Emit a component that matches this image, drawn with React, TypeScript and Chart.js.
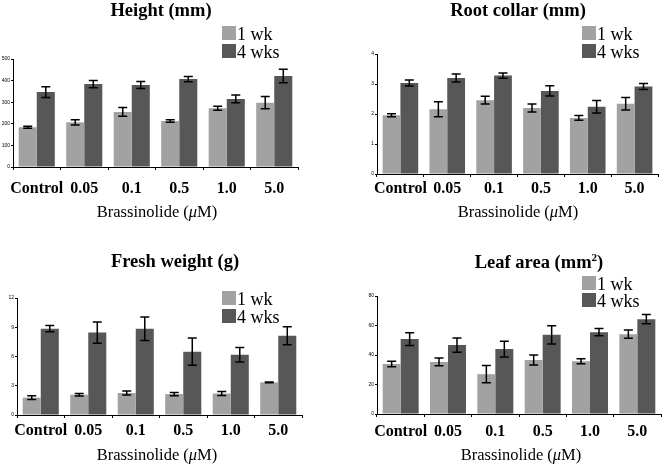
import React, { useEffect, useRef } from "react";
import { Chart, registerables } from "chart.js";

Chart.register(...registerables);

// ---------- data ----------
const categories = ["Control", "0.05", "0.1", "0.5", "1.0", "5.0"];
const seriesLabels = ["1 wk", "4 wks"];

const heightWk1 = [184, 207, 255, 213, 272, 298];
const heightWk1Err = [5, 12, 20, 6, 9, 28];
const heightWk4 = [347, 384, 380, 407, 315, 421];
const heightWk4Err = [25, 17, 16, 12, 18, 31];
const heightTicks = { max: 500, step: 100 };

const rootWk1 = [1.96, 2.16, 2.46, 2.2, 1.87, 2.34];
const rootWk1Err = [0.05, 0.25, 0.13, 0.13, 0.08, 0.21];
const rootWk4 = [3.03, 3.2, 3.28, 2.77, 2.24, 2.92];
const rootWk4Err = [0.1, 0.13, 0.09, 0.17, 0.21, 0.1];
const rootTicks = { max: 4, step: 1 };

const freshWk1 = [1.78, 2.08, 2.25, 2.15, 2.2, 3.35];
const freshWk1Err = [0.19, 0.12, 0.2, 0.17, 0.2, 0.03];
const freshWk4 = [8.85, 8.45, 8.85, 6.5, 6.18, 8.13];
const freshWk4Err = [0.32, 1.08, 1.2, 1.4, 0.75, 0.92];
const freshTicks = { max: 12, step: 3 };

const leafWk1 = [33.9, 35.3, 27, 36.6, 35.7, 54.1];
const leafWk1Err = [1.9, 2.6, 5.8, 3.4, 1.7, 2.8];
const leafWk4 = [50.8, 46.7, 44, 53.7, 55.5, 64.3];
const leafWk4Err = [4.3, 4.8, 5.4, 6.2, 2.5, 3.1];
const leafTicks = { max: 80, step: 20 };

const xTitleParts = ["Brassinolide (", "\u03bc", "M)"];

// ---------- style ----------
const LIGHT = "#a2a2a2";
const DARK = "#575757";
const SERIF = "'Liberation Serif', 'Times New Roman', serif";
const SANS = "'Liberation Sans', Arial, sans-serif";

type PanelCfg = {
  title: string;
  sup?: string;
  w1: number[];
  e1: number[];
  w4: number[];
  e4: number[];
  ticks: { max: number; step: number };
  canvas: { left: number; top: number; width: number; height: number };
  area: { left: number; right: number; top: number; bottom: number };
  titleX: number;
  titleY: number;
  legendX: number;
  legendY: number;
  legendStep: number;
  xTitleX: number;
  xTitleY: number;
  tickPad: number;
};

const panels: PanelCfg[] = [
  {
    title: "Height (mm)",
    w1: heightWk1, e1: heightWk1Err, w4: heightWk4, e4: heightWk4Err, ticks: heightTicks,
    canvas: { left: 0, top: 0, width: 333, height: 233 },
    area: { left: 13, right: 298, top: 59, bottom: 167 },
    titleX: 161, titleY: 16,
    legendX: 222, legendY: 26, legendStep: 18,
    xTitleX: 157, xTitleY: 217, tickPad: 9,
  },
  {
    title: "Root collar (mm)",
    w1: rootWk1, e1: rootWk1Err, w4: rootWk4, e4: rootWk4Err, ticks: rootTicks,
    canvas: { left: 333, top: 0, width: 333, height: 233 },
    area: { left: 377, right: 658, top: 54, bottom: 174 },
    titleX: 518, titleY: 16,
    legendX: 582, legendY: 26, legendStep: 18,
    xTitleX: 518, xTitleY: 217, tickPad: 2,
  },
  {
    title: "Fresh weight (g)",
    w1: freshWk1, e1: freshWk1Err, w4: freshWk4, e4: freshWk4Err, ticks: freshTicks,
    canvas: { left: 0, top: 233, width: 333, height: 234 },
    area: { left: 17, right: 302, top: 298, bottom: 415 },
    titleX: 175, titleY: 267,
    legendX: 222, legendY: 291, legendStep: 18,
    xTitleX: 157, xTitleY: 460, tickPad: 3,
  },
  {
    title: "Leaf area (mm",
    sup: "2",
    w1: leafWk1, e1: leafWk1Err, w4: leafWk4, e4: leafWk4Err, ticks: leafTicks,
    canvas: { left: 333, top: 233, width: 333, height: 234 },
    area: { left: 377, right: 661, top: 296, bottom: 414 },
    titleX: 539, titleY: 268,
    legendX: 582, legendY: 276, legendStep: 17,
    xTitleX: 521, xTitleY: 460, tickPad: 5,
  },
];

const X_AXIS_H = 28;

const errorBarsPlugin = {
  id: "errorBars",
  afterDatasetsDraw(chart: any) {
    const ctx = chart.ctx;
    const yScale = chart.scales.y;
    ctx.save();
    ctx.strokeStyle = "#000";
    ctx.lineWidth = 1.5;
    chart.data.datasets.forEach((ds: any, i: number) => {
      const meta = chart.getDatasetMeta(i);
      meta.data.forEach((el: any, j: number) => {
        const v = ds.data[j];
        const e = ds.errors[j];
        const yTop = yScale.getPixelForValue(v + e);
        const yBot = yScale.getPixelForValue(v - e);
        const half = 4.5;
        ctx.beginPath();
        ctx.moveTo(el.x, yTop);
        ctx.lineTo(el.x, yBot);
        ctx.moveTo(el.x - half, yTop);
        ctx.lineTo(el.x + half, yTop);
        ctx.moveTo(el.x - half, yBot);
        ctx.lineTo(el.x + half, yBot);
        ctx.stroke();
      });
    });
    ctx.restore();
  },
};

function makeDecorPlugin(cfg: PanelCfg) {
  return {
    id: "decor",
    afterDraw(chart: any) {
      const ctx = chart.ctx;
      const ox = cfg.canvas.left;
      const oy = cfg.canvas.top;
      ctx.save();
      ctx.fillStyle = "#000";
      ctx.textBaseline = "alphabetic";
      // title
      ctx.font = `bold 18.5px ${SERIF}`;
      const tw = ctx.measureText(cfg.title).width;
      let supW = 0;
      let closeW = 0;
      if (cfg.sup) {
        ctx.font = `bold 11px ${SERIF}`;
        supW = ctx.measureText(cfg.sup).width;
        ctx.font = `bold 18.5px ${SERIF}`;
        closeW = ctx.measureText(")").width;
      }
      const total = tw + supW + closeW;
      const tx = cfg.titleX - ox - total / 2;
      ctx.textAlign = "left";
      ctx.fillText(cfg.title, tx, cfg.titleY - oy);
      if (cfg.sup) {
        ctx.font = `bold 11px ${SERIF}`;
        ctx.fillText(cfg.sup, tx + tw, cfg.titleY - oy - 7);
        ctx.font = `bold 18.5px ${SERIF}`;
        ctx.fillText(")", tx + tw + supW, cfg.titleY - oy);
      }
      // legend
      const colors = [LIGHT, DARK];
      chart.data.datasets.forEach((ds: any, i: number) => {
        const sx = cfg.legendX - ox;
        const sy = cfg.legendY - oy + i * cfg.legendStep;
        ctx.fillStyle = colors[i];
        ctx.fillRect(sx, sy, 14, 14);
        ctx.fillStyle = "#000";
        ctx.font = `18px ${SERIF}`;
        ctx.fillText(ds.label, sx + 15, sy + 14);
      });
      // x title
      const fonts = [`16.5px ${SERIF}`, `italic 16.5px ${SERIF}`, `16.5px ${SERIF}`];
      const widths = xTitleParts.map((p, k) => {
        ctx.font = fonts[k];
        return ctx.measureText(p).width;
      });
      let x = cfg.xTitleX - ox - widths.reduce((a, b) => a + b, 0) / 2;
      xTitleParts.forEach((p, k) => {
        ctx.font = fonts[k];
        ctx.fillText(p, x, cfg.xTitleY - oy);
        x += widths[k];
      });
      ctx.restore();
    },
  };
}

function Panel({ cfg }: { cfg: PanelCfg }) {
  const ref = useRef<HTMLCanvasElement | null>(null);
  useEffect(() => {
    if (!ref.current) return;
    const { canvas, area } = cfg;
    const yW = area.left - canvas.left;
    const chart = new Chart(ref.current, {
      type: "bar",
      data: {
        labels: categories,
        datasets: [
          {
            label: seriesLabels[0],
            data: cfg.w1,
            errors: cfg.e1,
            backgroundColor: LIGHT,
            categoryPercentage: 0.76,
            barPercentage: 1,
          } as any,
          {
            label: seriesLabels[1],
            data: cfg.w4,
            errors: cfg.e4,
            backgroundColor: DARK,
            categoryPercentage: 0.76,
            barPercentage: 1,
          } as any,
        ],
      },
      options: {
        animation: false,
        responsive: false,
        maintainAspectRatio: false,
        devicePixelRatio: 1,
        layout: {
          padding: {
            left: 0,
            right: canvas.left + canvas.width - area.right,
            top: area.top - canvas.top,
            bottom: canvas.height - (area.bottom - canvas.top) - X_AXIS_H,
          },
        },
        plugins: {
          legend: { display: false },
          title: { display: false },
          tooltip: { enabled: false },
        },
        scales: {
          x: {
            grid: {
              display: true,
              drawOnChartArea: false,
              color: "#000",
              tickLength: 3,
              offset: true,
            },
            border: { color: "#000", width: 1 },
            ticks: {
              color: "#000",
              font: { family: SERIF, size: 16, weight: "bold" },
              padding: cfg.tickPad,
              maxRotation: 0,
              autoSkip: false,
            },
            afterFit: (s: any) => {
              s.height = X_AXIS_H;
            },
          },
          y: {
            min: 0,
            max: cfg.ticks.max,
            ticks: {
              stepSize: cfg.ticks.step,
              color: "#000",
              font: { family: SANS, size: 5 },
              padding: 1,
            },
            grid: {
              display: true,
              drawOnChartArea: false,
              color: "#000",
              tickLength: 2,
            },
            border: { color: "#000", width: 1 },
            afterFit: (s: any) => {
              s.width = yW;
            },
          },
        },
      } as any,
      plugins: [errorBarsPlugin, makeDecorPlugin(cfg)],
    });
    return () => chart.destroy();
  }, [cfg]);
  const { canvas } = cfg;
  return (
    <canvas
      ref={ref}
      width={canvas.width}
      height={canvas.height}
      style={{
        position: "absolute",
        left: canvas.left,
        top: canvas.top,
        width: canvas.width,
        height: canvas.height,
      }}
    />
  );
}

export default function App() {
  return (
    <div
      style={{
        position: "fixed",
        left: 0,
        top: 0,
        width: 666,
        height: 467,
        background: "#fff",
        overflow: "hidden",
      }}
    >
      {panels.map((p, i) => (
        <Panel key={i} cfg={p} />
      ))}
    </div>
  );
}
